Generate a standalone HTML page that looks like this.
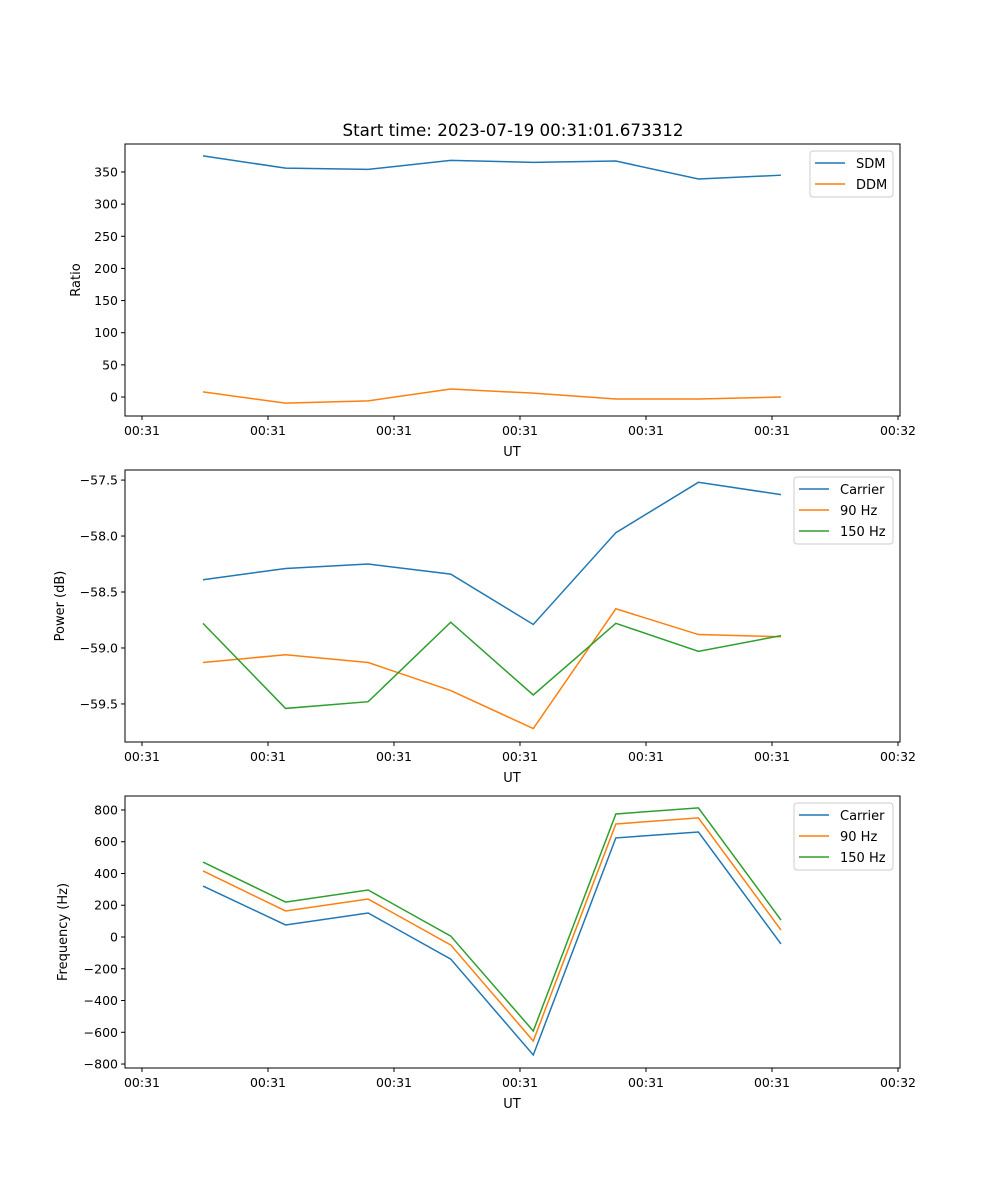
<!DOCTYPE html>
<html><head><meta charset="utf-8"><style>
body{margin:0;background:#fff}
svg{display:block;font-family:"DejaVu Sans","Liberation Sans",sans-serif}
</style></head><body>
<svg id="fig" width="1000" height="1200" viewBox="0 0 1000 1200" xmlns="http://www.w3.org/2000/svg">
<rect width="1000" height="1200" fill="#fff"/>
<text x="513" y="136" font-size="16.7" text-anchor="middle">Start time: 2023-07-19 00:31:01.673312</text>
</svg>
<script>
const xIdx=[0,1,2,3,4,5,6,7];
const tickIdx=[-0.739,0.787,2.313,3.839,5.365,6.891,8.417];
const tickLabels=["00:31","00:31","00:31","00:31","00:31","00:31","00:32"];
const sdm=[375,356,354,368,365,367,339,345];
const ddm=[8,-9.5,-6,12.5,6,-3,-3,0];
const powCarrier=[-58.39,-58.29,-58.25,-58.34,-58.79,-57.97,-57.52,-57.63];
const pow90=[-59.13,-59.06,-59.13,-59.38,-59.72,-58.65,-58.88,-58.90];
const pow150=[-58.78,-59.54,-59.48,-58.77,-59.42,-58.78,-59.03,-58.89];
const freqCarrier=[321,76,151,-139,-743,624,661,-44];
const freq90=[416,164,239,-50,-655,712,750,44];
const freq150=[472,220,296,6,-592,775,813,107];
const ratioTicks=[0,50,100,150,200,250,300,350];
const powTicks=[-59.5,-59.0,-58.5,-58.0,-57.5];
const freqTicks=[-800,-600,-400,-200,0,200,400,600,800];

const NS="http://www.w3.org/2000/svg";
const svg=document.getElementById('fig');
function mk(tag,at,parent){const e=document.createElementNS(NS,tag);for(const k in at)e.setAttribute(k,at[k]);(parent||svg).appendChild(e);return e;}
const X0=125,X1=900;
const xs=i=>203+82.57*i;
const C={blue:"#1f77b4",orange:"#ff7f0e",green:"#2ca02c"};

function panel(name,top,ymin,ymax,yticks,fmt,ylabel,series,legend){
  const bot=top+272;
  const ys=v=>bot-(v-ymin)/(ymax-ymin)*272;
  const g=mk('g',{});
  
  
  series.forEach(s=>{
    const p=mk('polyline',{points:s.data.map((v,i)=>xs(xIdx[i])+','+ys(v)).join(' '),fill:'none',stroke:s.color,'stroke-width':1.5},g);
    
    
  });
  const fr=mk('rect',{x:X0,y:top,width:X1-X0,height:272,fill:'none',stroke:'#000','stroke-width':1},g);
  
  
  tickIdx.forEach((t,i)=>{
    const x=xs(t);
    mk('line',{x1:x,x2:x,y1:bot,y2:bot+4,stroke:'#000'},g);
    const tx=mk('text',{x:x,y:bot+19,'font-size':12.5,'text-anchor':'middle'},g);
    tx.textContent=tickLabels[i];
    
    
  });
  const xl=mk('text',{x:512,y:bot+40,'font-size':13,'text-anchor':'middle'},g);
  xl.textContent='UT';
  
  
  yticks.forEach(v=>{
    const y=ys(v);
    mk('line',{x1:X0-4,x2:X0,y1:y,y2:y,stroke:'#000'},g);
    const tx=mk('text',{x:X0-7,y:y+4.5,'font-size':12.5,'text-anchor':'end'},g);
    tx.textContent=fmt(v);
    
    
  });
  const yl=mk('text',{x:0,y:0,'font-size':13,'text-anchor':'middle',transform:`translate(${legend.ylx},${top+136}) rotate(-90)`},g);
  yl.textContent=ylabel;
  
  
  const lg=mk('g',{},g);
  
  
  const h=series.length*21+4;
  mk('rect',{x:legend.x,y:top+7,width:X1-7-legend.x,height:h,rx:3,fill:'#fff',stroke:'#ccc'},lg);
  series.forEach((s,i)=>{
    const y=top+19+i*21;
    mk('line',{x1:legend.x+5,x2:legend.x+35,y1:y,y2:y,stroke:s.color,'stroke-width':1.5},lg);
    const t=mk('text',{x:legend.x+46,y:y+5,'font-size':13},lg);
    t.textContent=s.label;
    
    
  });
}
panel('ratio',144,-29.5,393.5,ratioTicks,v=>String(v),'Ratio',
 [{key:'sdm',label:'SDM',data:sdm,color:C.blue},{key:'ddm',label:'DDM',data:ddm,color:C.orange}],{x:810,ylx:80});
panel('power',470,-59.84,-57.41,powTicks,v=>'\u2212'+Math.abs(v).toFixed(1),'Power (dB)',
 [{key:'carrier',label:'Carrier',data:powCarrier,color:C.blue},{key:'90hz',label:'90 Hz',data:pow90,color:C.orange},{key:'150hz',label:'150 Hz',data:pow150,color:C.green}],{x:794,ylx:64});
panel('frequency',796,-825,888,freqTicks,v=>v<0?'\u2212'+Math.abs(v):String(v),'Frequency (Hz)',
 [{key:'carrier',label:'Carrier',data:freqCarrier,color:C.blue},{key:'90hz',label:'90 Hz',data:freq90,color:C.orange},{key:'150hz',label:'150 Hz',data:freq150,color:C.green}],{x:794,ylx:67});
</script>
</body></html>
